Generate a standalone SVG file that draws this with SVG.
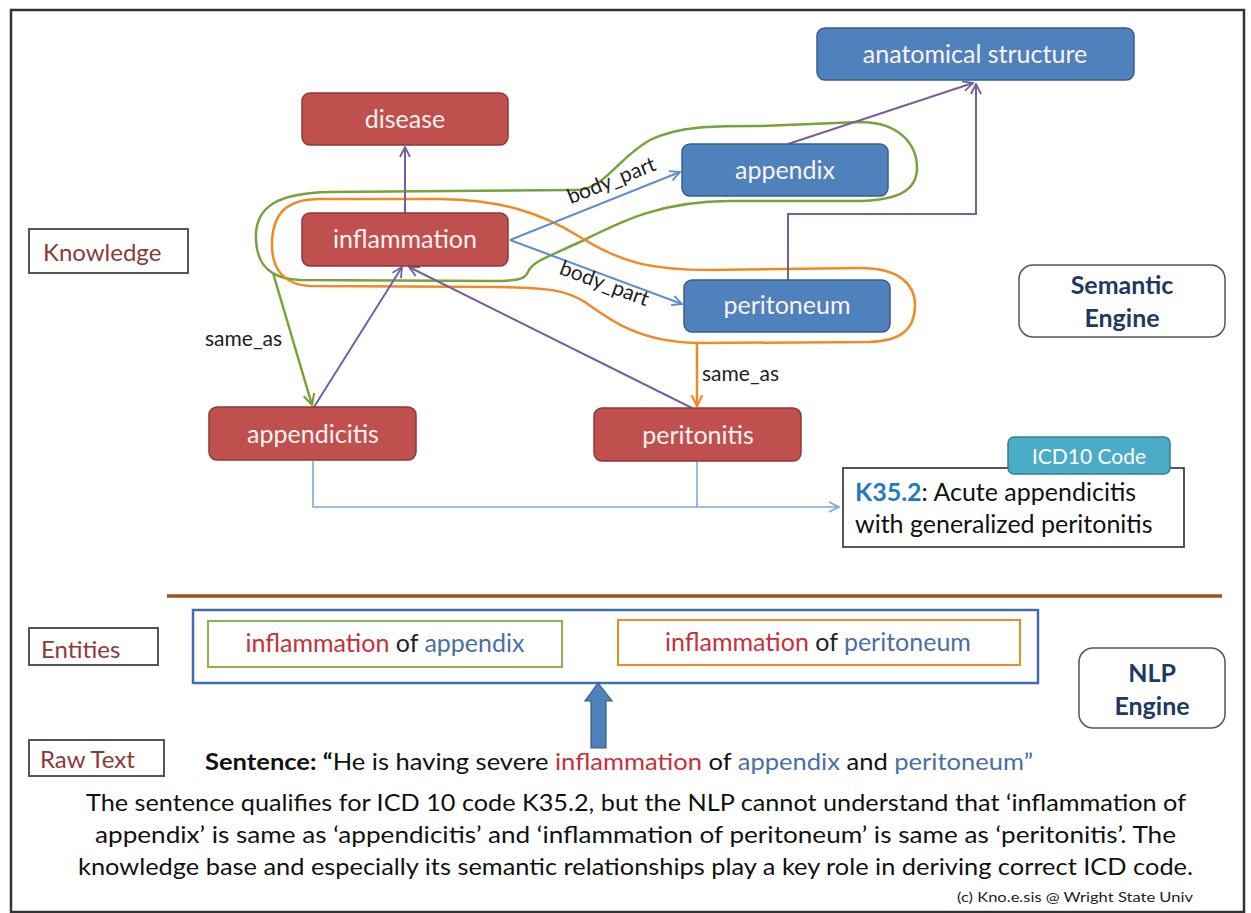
<svg xmlns="http://www.w3.org/2000/svg" width="1251" height="913" viewBox="0 0 1251 913">
<style>
text{font-family:Lato,"Open Sans","Liberation Sans",sans-serif}
.red rect{fill:#C0504D;stroke:#8C3836;stroke-width:1.5}
.blue rect{fill:#4F81BD;stroke:#385D8A;stroke-width:1.5}
.nt{fill:#FBF2F2;font-size:25px;text-anchor:middle}
.lab rect{fill:#fff;stroke:#555;stroke-width:2}
.lt{fill:#8B3A3A;font-size:24px}
.eng rect{fill:#fff;stroke:#555;stroke-width:1.5}
.et{fill:#1F3A60;font-size:25px;font-weight:bold;text-anchor:middle}
.pur{stroke:#7460A0;stroke-width:2;fill:none}
.bl{stroke:#5B8FD0;stroke-width:2;fill:none}
.icd{stroke:#7FA7D8;stroke-width:1.6;fill:none}
.rel{font-size:21px;fill:#222}
.r{fill:#C8303A}.b{fill:#4A6FA5}
</style>
<defs>
<marker id="ap" viewBox="0 0 12 12" refX="11" refY="6" markerWidth="12" markerHeight="12" markerUnits="userSpaceOnUse" orient="auto"><path d="M1,1 L11,6 L1,11" fill="none" stroke="#7460A0" stroke-width="1.8"/></marker>
<marker id="ab" viewBox="0 0 12 12" refX="11" refY="6" markerWidth="12" markerHeight="12" markerUnits="userSpaceOnUse" orient="auto"><path d="M1,1 L11,6 L1,11" fill="none" stroke="#5B8FD0" stroke-width="1.8"/></marker>
<marker id="ai" viewBox="0 0 12 12" refX="11" refY="6" markerWidth="12" markerHeight="12" markerUnits="userSpaceOnUse" orient="auto"><path d="M1,1 L11,6 L1,11" fill="none" stroke="#7FA7D8" stroke-width="1.6"/></marker>
<marker id="ag" viewBox="0 0 12 12" refX="11" refY="6" markerWidth="13" markerHeight="13" markerUnits="userSpaceOnUse" orient="auto"><path d="M1,1 L11,6 L1,11" fill="none" stroke="#77A33A" stroke-width="2"/></marker>
<marker id="ao" viewBox="0 0 12 12" refX="11" refY="6" markerWidth="13" markerHeight="13" markerUnits="userSpaceOnUse" orient="auto"><path d="M1,1 L11,6 L1,11" fill="none" stroke="#F08A24" stroke-width="2"/></marker>
</defs>
<rect x="0" y="0" width="1251" height="913" fill="#fff"/>
<rect x="11" y="10" width="1233" height="902" fill="none" stroke="#333" stroke-width="2.5"/>

<g id="loops">
<path d="M256,240 C254,205 280,193 330,192 L575,190 C605,190 615,160 650,140 C680,125 720,126 760,126 L860,122 C900,122 917,145 917,168 C917,192 895,200 860,201 L730,201 C660,201 620,222 580,242 C545,258 532,262 528,272 C525,280 515,281 490,281 L300,280 C270,279 257,265 256,240 Z" fill="none" stroke="#77A33A" stroke-width="2.5"/>
<path d="M272,245 C272,215 285,199 320,199 L440,199 C500,200 540,212 580,237 C620,262 650,270 710,270 L860,268 C900,268 915,285 915,305 C915,330 900,341 870,342 L700,343 C640,343 610,320 585,302 C565,290 550,288 500,287 L310,286 C285,285 272,270 272,245 Z" fill="none" stroke="#F08A24" stroke-width="2.5"/>
</g>

<g id="connectors">
<line class="pur" x1="405" y1="213" x2="405" y2="147" marker-end="url(#ap)"/>
<line class="pur" x1="788" y1="144" x2="973" y2="83" marker-end="url(#ap)"/>
<polyline class="pur" points="788,280 788,214 976,214 976,84" marker-end="url(#ap)"/>
<line class="pur" x1="314" y1="407" x2="402" y2="267" marker-end="url(#ap)"/>
<line class="pur" x1="692" y1="408" x2="409" y2="267" marker-end="url(#ap)"/>
<line class="bl" x1="510" y1="240" x2="680" y2="172" marker-end="url(#ab)"/>
<line class="bl" x1="510" y1="240" x2="682" y2="304" marker-end="url(#ab)"/>
<text class="rel" transform="translate(614,187) rotate(-21.8)" text-anchor="middle">body_part</text>
<text class="rel" transform="translate(602,290) rotate(20.4)" text-anchor="middle">body_part</text>
<line x1="273" y1="273" x2="312" y2="405" stroke="#77A33A" stroke-width="2.5" marker-end="url(#ag)"/>
<text class="rel" x="205" y="346" font-size="20">same_as</text>
<line x1="697" y1="343" x2="697" y2="406" stroke="#F08A24" stroke-width="2.5" marker-end="url(#ao)"/>
<text class="rel" x="702" y="381" font-size="20">same_as</text>
<polyline class="icd" points="313,461 313,507 839,507" marker-end="url(#ai)"/>
<line class="icd" x1="697" y1="462" x2="697" y2="507"/>
</g>

<g id="disease" class="red"><rect x="302" y="93" width="206" height="52" rx="8"/><text class="nt" x="405" y="128">disease</text></g>
<g id="inflammation" class="red"><rect x="302" y="213" width="206" height="53" rx="8"/><text class="nt" x="405" y="248">inflammation</text></g>
<g id="appendicitis" class="red"><rect x="209" y="407" width="207" height="53" rx="8"/><text class="nt" x="313" y="443">appendicitis</text></g>
<g id="peritonitis" class="red"><rect x="594" y="408" width="207" height="53" rx="8"/><text class="nt" x="698" y="444">peritonitis</text></g>
<g id="anatomical" class="blue"><rect x="817" y="28" width="317" height="52" rx="8"/><text class="nt" x="975" y="63">anatomical structure</text></g>
<g id="appendix" class="blue"><rect x="682" y="144" width="206" height="52" rx="8"/><text class="nt" x="785" y="179">appendix</text></g>
<g id="peritoneum" class="blue"><rect x="684" y="280" width="206" height="52" rx="8"/><text class="nt" x="787" y="314">peritoneum</text></g>

<g id="knowledge" class="lab"><rect x="29" y="229" width="159" height="44"/><text class="lt" x="43" y="261">Knowledge</text></g>
<g id="semantic" class="eng"><rect x="1019" y="265" width="206" height="72" rx="14"/><text class="et" x="1122" y="294">Semantic</text><text class="et" x="1122" y="327">Engine</text></g>

<g id="icdcode">
<rect x="843" y="468" width="341" height="79" fill="#fff" stroke="#444" stroke-width="1.8"/>
<rect x="1008" y="437" width="162" height="37" rx="6" fill="#4BACC6" stroke="#357E93" stroke-width="1.5"/>
<text x="1089" y="464" fill="#fff" font-size="21" text-anchor="middle">ICD10 Code</text>
<text x="855" y="501" font-size="25" fill="#111"><tspan fill="#1F7BC0" font-weight="bold">K35.2</tspan>: Acute appendicitis</text>
<text x="855" y="533" font-size="25" fill="#111">with generalized peritonitis</text>
</g>

<line id="divider" x1="167" y1="596" x2="1222" y2="596" stroke="#A0521A" stroke-width="3.5"/>

<g id="entities" class="lab"><rect x="29" y="628" width="129" height="37"/><text class="lt" x="41" y="658">Entities</text></g>
<g id="entitybox">
<rect x="193" y="610" width="845" height="73" fill="none" stroke="#3F6FAA" stroke-width="2.5"/>
<rect x="208" y="621" width="354" height="46" fill="none" stroke="#8DB34E" stroke-width="2"/>
<text x="385" y="652" font-size="25" text-anchor="middle" fill="#222"><tspan class="r">inflammation</tspan> of <tspan class="b">appendix</tspan></text>
<rect x="618" y="620" width="402" height="45" fill="none" stroke="#F08A24" stroke-width="2"/>
<text x="818" y="651" font-size="25" text-anchor="middle" fill="#222"><tspan class="r">inflammation</tspan> of <tspan class="b">peritoneum</tspan></text>
</g>
<g id="nlp" class="eng"><rect x="1079" y="648" width="146" height="80" rx="14"/><text class="et" x="1152" y="682">NLP</text><text class="et" x="1152" y="715">Engine</text></g>
<polygon id="uparrow" points="598,683 585,701 591,701 591,748 606,748 606,701 612,701" fill="#4F81BD" stroke="#385D8A" stroke-width="1.2"/>

<g id="rawtext" class="lab"><rect x="29" y="740" width="135" height="36"/><text class="lt" x="40" y="768">Raw Text</text></g>
<text x="205" y="770" font-size="23" fill="#111" textLength="828" lengthAdjust="spacingAndGlyphs"><tspan font-weight="bold">Sentence: “</tspan>He is having severe <tspan class="r">inflammation</tspan> of <tspan class="b">appendix</tspan> and <tspan class="b">peritoneum”</tspan></text>
<text x="86" y="811" font-size="24" fill="#111" textLength="1100" lengthAdjust="spacingAndGlyphs">The sentence qualifies for ICD 10 code K35.2, but the NLP cannot understand that ‘inflammation of</text>
<text x="95" y="843" font-size="24" fill="#111" textLength="1081" lengthAdjust="spacingAndGlyphs">appendix’ is same as ‘appendicitis’ and ‘inflammation of peritoneum’ is same as ‘peritonitis’. The</text>
<text x="78" y="875" font-size="24" fill="#111" textLength="1115" lengthAdjust="spacingAndGlyphs">knowledge base and especially its semantic relationships play a key role in deriving correct ICD code.</text>
<text x="957" y="902" font-size="14" fill="#222" textLength="236" lengthAdjust="spacingAndGlyphs">(c) Kno.e.sis @ Wright State Univ</text>
</svg>
